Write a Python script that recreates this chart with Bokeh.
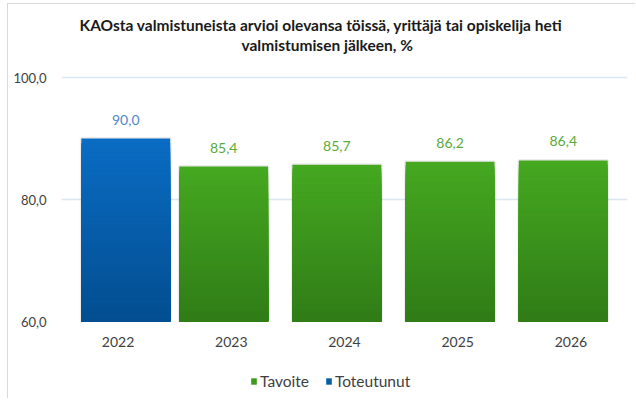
from bokeh.plotting import figure
from bokeh.layouts import column
from bokeh.models import (Range1d, FactorRange, FixedTicker, ColumnDataSource, Legend, LegendItem, Title)
from bokeh.transform import dodge
from bokeh.core.properties import value
from bokeh.embed import file_html
from bokeh.resources import INLINE

years = ["2022", "2023", "2024", "2025", "2026"]
tavoite = [None, 85.4, 85.7, 86.2, 86.4]
toteutunut = [90.0, None, None, None, None]
tavoite_labels = ["", "85,4", "85,7", "86,2", "86,4"]
toteutunut_labels = ["90,0", "", "", "", ""]
y_ticks = [60, 80, 100]
y_tick_labels = ["60,0", "80,0", "100,0"]
title_lines = ["KAOsta valmistuneista arvioi olevansa töissä, yrittäjä tai opiskelija heti",
               "valmistumisen jälkeen, %"]
series_names = ["Tavoite", "Toteutunut"]

FONT = "Lato"
BASE = 60
N_SLICES = 40
BAR_W = 0.785
OFF = 0.0675

green_top, green_bot = (0x45, 0xA8, 0x20), (0x2F, 0x7B, 0x17)
blue_top, blue_bot = (0x0A, 0x6C, 0xC3), (0x02, 0x4D, 0x8F)


def hexc(c):
    return "#%02x%02x%02x" % tuple(int(round(v)) for v in c)


def gradient_source(vals):
    xs, tops, fs = [], [], []
    for yr, v in zip(years, vals):
        if v is None:
            continue
        for i in range(N_SLICES):
            f = i / N_SLICES
            xs.append(yr)
            tops.append(v - (v - BASE) * f)
            fs.append(f)
    return xs, tops, fs


p = figure(x_range=FactorRange(factors=years, range_padding=0),
           y_range=Range1d(BASE, 103.94),
           width=627, height=359,
           min_border_left=53, min_border_right=8,
           min_border_top=49, min_border_bottom=42,
           output_backend="svg", toolbar_location=None)

p.outline_line_color = None
p.background_fill_color = "white"
p.border_fill_color = "white"
p.xgrid.grid_line_color = None
p.ygrid.grid_line_color = "#dce7f4"
p.ygrid.grid_line_width = 1.5
p.yaxis.ticker = FixedTicker(ticks=y_ticks)
p.yaxis.major_label_overrides = dict(zip(y_ticks, y_tick_labels))
for ax in (p.xaxis, p.yaxis):
    ax.axis_line_color = None
    ax.major_tick_line_color = None
    ax.minor_tick_line_color = None
    ax.major_label_text_font = FONT
    ax.major_label_text_color = "#404040"
p.yaxis.major_label_text_font_size = "13px"
p.yaxis.major_label_standoff = 9
p.xaxis.major_label_text_font_size = "14px"
p.xaxis.major_label_standoff = 9

# title: two lines, nearest-to-frame added first
for line, off in [(title_lines[1], 180), (title_lines[0], 18)]:
    p.add_layout(Title(text=line, align="left", offset=off, standoff=0,
                       text_font=FONT, text_font_size="15.5px", text_font_style="bold",
                       text_color="#1a1a1a"), "above")


def draw_series(vals, offset, ctop, cbot):
    xs, tops, fs = gradient_source(vals)
    cols = [hexc([a + (b - a) * f for a, b in zip(ctop, cbot)]) for f in fs]
    src = ColumnDataSource(dict(x=xs, top=tops, color=cols))
    shadow = ColumnDataSource(dict(x=[y for y, v in zip(years, vals) if v is not None],
                                   top=[v for v in vals if v is not None]))
    p.vbar(x=dodge("x", offset, range=p.x_range), top="top", bottom=BASE, width=BAR_W,
           source=shadow, fill_color=None, line_color="black", line_alpha=0.07, line_width=3)
    p.vbar(x=dodge("x", offset, range=p.x_range), top="top", bottom=BASE, width=BAR_W,
           source=src, fill_color="color", line_color=None)


draw_series(tavoite, -OFF, green_top, green_bot)
draw_series(toteutunut, OFF, blue_top, blue_bot)

# data labels
lab_t = ColumnDataSource(dict(x=[y for y, v in zip(years, tavoite) if v is not None],
                              y=[v for v in tavoite if v is not None],
                              t=[l for l in tavoite_labels if l]))
lab_b = ColumnDataSource(dict(x=[y for y, v in zip(years, toteutunut) if v is not None],
                              y=[v for v in toteutunut if v is not None],
                              t=[l for l in toteutunut_labels if l]))
p.text(x=dodge("x", -OFF, range=p.x_range), y="y", text="t", source=lab_t,
       text_align="center", text_baseline="bottom", y_offset=-14,
       text_font=value(FONT), text_font_size="14px", text_color="#5aab3a")
p.text(x=dodge("x", OFF, range=p.x_range), y="y", text="t", source=lab_b,
       text_align="center", text_baseline="bottom", y_offset=-14,
       text_font=value(FONT), text_font_size="14px", text_color="#4e88c7")

# legend strip below the chart
q = figure(x_range=Range1d(0, 1), y_range=Range1d(0, 1), width=627, height=35,
           min_border_left=0, min_border_right=0, min_border_top=0, min_border_bottom=0,
           x_axis_location=None, y_axis_location=None,
           output_backend="svg", toolbar_location=None)
q.outline_line_color = None
q.grid.visible = False
q.border_fill_color = "white"
leg_g = q.vbar(x=[0.5], top=[0], bottom=[0], width=0.01, fill_color="#3d9a1c", line_color=None)
leg_b = q.vbar(x=[0.5], top=[0], bottom=[0], width=0.01, fill_color="#065eaa", line_color=None)
legend = Legend(items=[LegendItem(label=series_names[0], renderers=[leg_g]),
                       LegendItem(label=series_names[1], renderers=[leg_b])],
                orientation="horizontal", location=(189, 8),
                glyph_width=7, glyph_height=8, label_standoff=3, spacing=16,
                padding=0, margin=0, border_line_color=None,
                label_text_font=FONT, label_text_font_size="15.5px",
                label_text_color="#404040", background_fill_alpha=0)
q.add_layout(legend, "center")

layout = column(p, q, spacing=0)
layout.styles = {"margin-left": "7px", "margin-top": "3px", "overflow": "hidden",
                 "border-left": "1px solid #d9d9d9", "border-top": "1px solid #d9d9d9"}

open("out.html", "w").write(file_html(layout, INLINE))
